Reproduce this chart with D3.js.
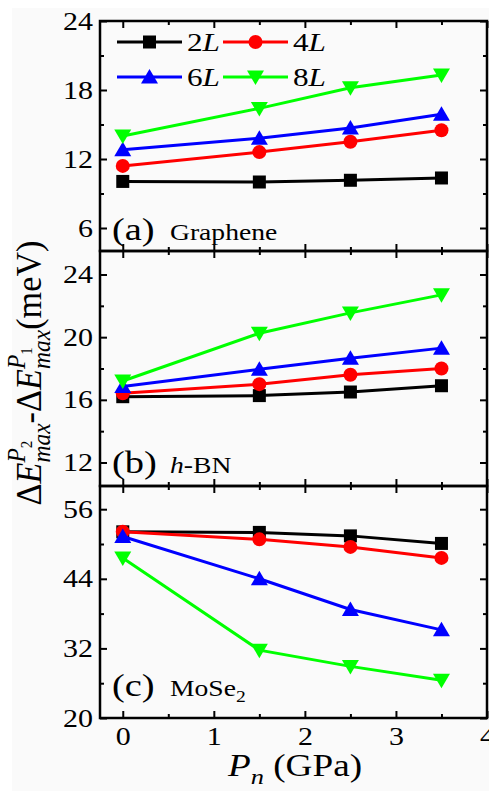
<!DOCTYPE html>
<html>
<head>
<meta charset="utf-8">
<script src="https://cdn.jsdelivr.net/npm/d3@7"></script>
<style>
  body { margin: 0; background: #ffffff; }
  svg { display: block; }
</style>
</head>
<body>
<div id="chart"></div>
<script>
"use strict";
var w = 489;
var h = 791;

// pressure values (GPa) shared by all panels
var pressure = [0, 1.5, 2.5, 3.5];
var layerNames = ["2", "4", "6", "8"];
var layerColors = ["#000000", "#ff0000", "#0000ff", "#00ff00"];
var layerMarkers = ["square", "circle", "triUp", "triDown"];

// (a) Graphene
var graphene2L = [10.05, 10.0, 10.15, 10.35];
var graphene4L = [11.4, 12.6, 13.5, 14.5];
var graphene6L = [12.8, 13.8, 14.7, 15.9];
var graphene8L = [14.0, 16.4, 18.2, 19.3];
// (b) h-BN
var hbn2L = [16.2, 16.27, 16.5, 16.9];
var hbn4L = [16.42, 17.0, 17.6, 18.0];
var hbn6L = [16.85, 17.95, 18.65, 19.3];
var hbn8L = [17.2, 20.25, 21.55, 22.7];
// (c) MoSe2
var mose2L = [52.1, 52.0, 51.4, 50.1];
var mose4L = [52.1, 50.8, 49.5, 47.6];
var mose6L = [51.3, 44.0, 38.7, 35.2];
var mose8L = [47.6, 31.7, 28.9, 26.5];

// y ticks for each panel
var ticksA = [6, 12, 18, 24];
var ticksB = [12, 16, 20, 24];
var ticksC = [20, 32, 44, 56];
var xTicks = [0, 1, 2, 3, 4];

var serif = "'Liberation Serif', 'Times New Roman', serif";
var stretch = 1.2; // the text in the figure is a bit wide

var left = 100, right = 487;

var panels = [
    {id: "a", top: 21, bottom: 251, domain: [4, 24], ticks: ticksA, step: 3,
     series: [graphene2L, graphene4L, graphene6L, graphene8L]},
    {id: "b", top: 251, bottom: 486, domain: [10.5, 25.5], ticks: ticksB, step: 2,
     series: [hbn2L, hbn4L, hbn6L, hbn8L]},
    {id: "c", top: 486, bottom: 718, domain: [20, 60], ticks: ticksC, step: 6,
     series: [mose2L, mose4L, mose6L, mose8L]}
];

function init() {
    draw();
}
window.onload = init;

// marker path drawer
function marker(sel, kind, color) {
    if (kind == "square") {
        sel.append("rect").attr("x", -6.5).attr("y", -6.5)
            .attr("width", 13).attr("height", 13).attr("fill", color);
    } else if (kind == "circle") {
        sel.append("circle").attr("r", 7).attr("fill", color);
    } else if (kind == "triUp") {
        sel.append("path").attr("d", "M0,-8L8.5,6.5L-8.5,6.5Z").attr("fill", color);
    } else {
        sel.append("path").attr("d", "M0,8L8.5,-6.5L-8.5,-6.5Z").attr("fill", color);
    }
}

function draw() {
    var svg = d3.select("#chart")
        .append("svg")
        .attr("width", w)
        .attr("height", h);

    // light grey paper behind the figure
    svg.append("rect")
        .attr("x", 12).attr("y", 8)
        .attr("width", w - 12).attr("height", h - 8)
        .attr("fill", "#fafafa");

    var x = d3.scaleLinear().domain([-0.25, 4]).range([left, right]);
    var xMinor = [0.5, 1.5, 2.5, 3.5];

    panels.forEach(function(p, pi) {
        var y = d3.scaleLinear().domain(p.domain).range([p.bottom, p.top]);
        var g = svg.append("g").attr("class", "panel-" + p.id);

        // minor y ticks at the half steps
        var yMinor = p.ticks.map(function(v){ return v - p.step; })
            .concat(p.ticks.map(function(v){ return v + p.step; }))
            .filter(function(v, i, arr){
                return v > p.domain[0] && v < p.domain[1] && p.ticks.indexOf(v) < 0 && arr.indexOf(v) == i;
            });

        // left axis with labels
        var ax = g.append("g").attr("transform", "translate(" + left + ",0)")
            .call(d3.axisLeft(y).tickValues(p.ticks).tickSize(-7).tickPadding(7));
        ax.selectAll("text")
            .attr("x", 0)
            .attr("transform", "translate(-7,0) scale(" + stretch + ",1)")
            .attr("font-family", serif).attr("font-size", 25).attr("fill", "#000");
        g.append("g").attr("transform", "translate(" + left + ",0)")
            .call(d3.axisLeft(y).tickValues(yMinor).tickSize(-4).tickFormat(""));
        // right axis, ticks only
        g.append("g").attr("transform", "translate(" + right + ",0)")
            .call(d3.axisRight(y).tickValues(p.ticks).tickSize(-7).tickFormat(""));
        g.append("g").attr("transform", "translate(" + right + ",0)")
            .call(d3.axisRight(y).tickValues(yMinor).tickSize(-4).tickFormat(""));
        // top and bottom ticks
        g.append("g").attr("transform", "translate(0," + p.top + ")")
            .call(d3.axisTop(x).tickValues(xTicks).tickSize(-7).tickFormat(""));
        g.append("g").attr("transform", "translate(0," + p.top + ")")
            .call(d3.axisTop(x).tickValues(xMinor).tickSize(-4).tickFormat(""));
        var bx = g.append("g").attr("transform", "translate(0," + p.bottom + ")")
            .call(d3.axisBottom(x).tickValues(xTicks).tickSize(-7).tickPadding(9)
                .tickFormat(pi == 2 ? d3.format("d") : ""));
        bx.selectAll("text")
            .attr("y", 0).attr("dy", "0.71em")
            .attr("transform", "translate(0,9) scale(" + stretch + ",1)")
            .attr("font-family", serif).attr("font-size", 25).attr("fill", "#000");
        g.append("g").attr("transform", "translate(0," + p.bottom + ")")
            .call(d3.axisBottom(x).tickValues(xMinor).tickSize(-4).tickFormat(""));

        g.selectAll(".domain").remove();
        g.selectAll(".tick line").attr("stroke", "#000").attr("stroke-width", 2);

        // the data
        var line = d3.line()
            .x(function(d){ return x(d[0]); })
            .y(function(d){ return y(d[1]); });
        p.series.forEach(function(vals, si) {
            var pts = pressure.map(function(px, k){ return [px, vals[k]]; });
            g.append("path")
                .attr("d", line(pts))
                .attr("fill", "none")
                .attr("stroke", layerColors[si])
                .attr("stroke-width", 3);
            pts.forEach(function(d){
                var m = g.append("g").attr("transform", "translate(" + x(d[0]) + "," + y(d[1]) + ")");
                marker(m, layerMarkers[si], layerColors[si]);
            });
        });

        // frame
        g.append("rect")
            .attr("x", left).attr("y", p.top)
            .attr("width", right - left).attr("height", p.bottom - p.top)
            .attr("fill", "none").attr("stroke", "#000").attr("stroke-width", 2.5);
    });

    // legend in panel (a)
    var legendPos = [[117, 42], [223, 42], [117, 77], [223, 77]];
    layerNames.forEach(function(name, i) {
        var lg = svg.append("g").attr("transform", "translate(" + legendPos[i][0] + "," + legendPos[i][1] + ")");
        lg.append("line").attr("x1", 0).attr("x2", 65).attr("y1", 0).attr("y2", 0)
            .attr("stroke", layerColors[i]).attr("stroke-width", 3);
        var m = lg.append("g").attr("transform", "translate(32.5,0)");
        marker(m, layerMarkers[i], layerColors[i]);
        var t = lg.append("text")
            .attr("transform", "translate(70,9) scale(" + stretch + ",1)")
            .attr("font-family", serif).attr("font-size", 26);
        t.append("tspan").text(name);
        t.append("tspan").attr("font-style", "italic").text("L");
    });

    // panel names
    var tags = [["(a)", 240], ["(b)", 473], ["(c)", 696]];
    tags.forEach(function(tg) {
        svg.append("text")
            .attr("transform", "translate(112," + tg[1] + ") scale(" + stretch + ",1)")
            .attr("font-family", serif).attr("font-size", 32)
            .text(tg[0]);
    });
    svg.append("text")
        .attr("transform", "translate(170,240) scale(1.15,1)")
        .attr("font-family", serif).attr("font-size", 24)
        .text("Graphene");
    var n2 = svg.append("text")
        .attr("transform", "translate(170,473) scale(1.15,1)")
        .attr("font-family", serif).attr("font-size", 24);
    n2.append("tspan").attr("font-style", "italic").text("h");
    n2.append("tspan").text("-BN");
    var n3 = svg.append("text")
        .attr("transform", "translate(170,696) scale(1.15,1)")
        .attr("font-family", serif).attr("font-size", 24);
    n3.append("tspan").text("MoSe");
    n3.append("tspan").attr("font-size", 17).attr("dy", 6).text("2");

    // x axis title
    var xt = svg.append("text")
        .attr("transform", "translate(295,776) scale(" + stretch + ",1)")
        .attr("text-anchor", "middle")
        .attr("font-family", serif).attr("font-size", 31);
    xt.append("tspan").attr("font-style", "italic").text("P");
    xt.append("tspan").attr("font-style", "italic").attr("font-size", 22).attr("dy", 8).text("n");
    xt.append("tspan").attr("dy", -8).text(" (GPa)");

    // y axis title, built piece by piece along the rotated baseline
    var yt = svg.append("g");
    var cursor = 0;
    function piece(str, size, italic, dy, advance) {
        var t = yt.append("text")
            .attr("x", cursor).attr("y", dy)
            .attr("font-family", serif).attr("font-size", size)
            .attr("font-style", italic ? "italic" : "normal")
            .text(str);
        var len = t.node().getComputedTextLength();
        if (advance) cursor += len;
        return len;
    }
    function deltaE(sub) {
        piece("\u0394", 32, false, 0, true);
        piece("E", 32, true, 0, true);
        var start = cursor;
        piece("P", 22, true, -14, true);
        piece(sub, 14, false, -8, true);
        var supW = cursor - start;
        cursor = start;
        var subW = piece("max", 22, true, 8, false);
        cursor = start + Math.max(supW, subW);
    }
    deltaE("2");
    piece("-", 32, false, 0, true);
    deltaE("1");
    piece(" (meV)", 32, false, 0, true);
    var lenScale = 1.07;
    yt.attr("transform", "translate(41," + (373 + cursor * lenScale / 2) + ") rotate(-90) scale(" + lenScale + ",1.15)");
}
</script>
</body>
</html>
